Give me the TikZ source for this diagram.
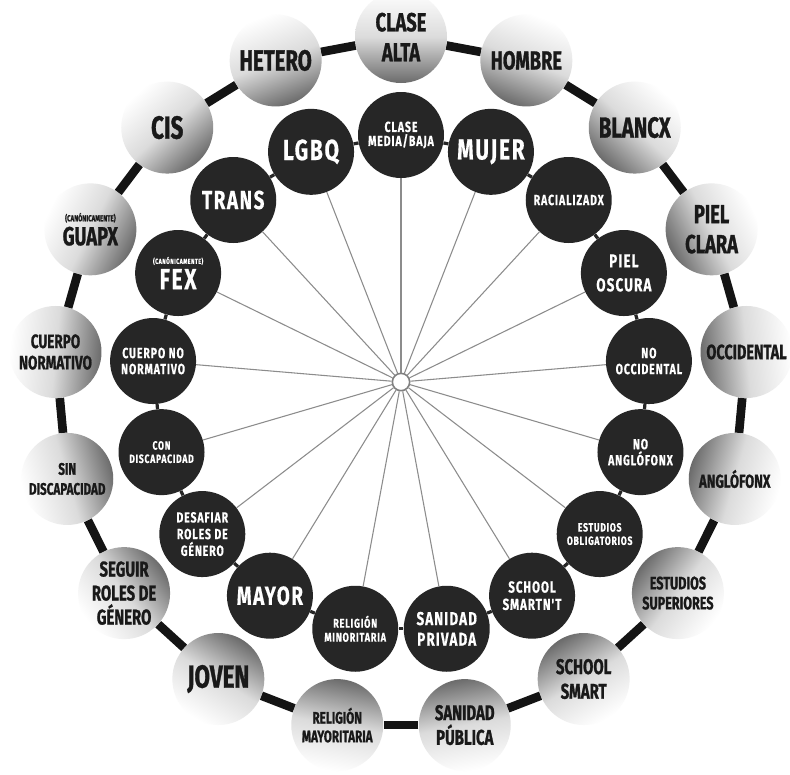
\documentclass[tikz,border=0pt]{standalone}
\usepackage{fontspec}
\newfontfamily\cf[FakeStretch=0.70,FakeBold=1]{Fira Sans}
\newfontfamily\cfs[FakeStretch=0.72,LetterSpace=6,FakeBold=0.4]{Fira Sans}
\definecolor{innerfill}{HTML}{262626}
\begin{document}
\begin{tikzpicture}[x=0.75pt,y=-0.75pt,
  inode/.style={circle, fill=innerfill, minimum size=64.5pt, inner sep=0pt, text=white, align=center},
  onode/.style={circle, minimum size=69pt, inner sep=0pt, text=black!90, align=center,
     top color=white, bottom color=black!58, middle color=black!14},
  spoke/.style={draw=black!45, line width=0.8pt},
  ilink/.style={draw=innerfill, line width=2.4pt},
  olink/.style={draw=black!92, line width=6.5pt},
  hubnode/.style={circle, draw=black!50, fill=white, line width=1.2pt, minimum size=13pt, inner sep=0pt}]
\useasboundingbox (0,0) rectangle (790,775);
\fill[white] (0,0) rectangle (790,775);
\foreach \i in {0,...,16}{
  \coordinate (pi\i) at ([shift={(401,384)}]{-90+\i*360/17}:249);
  \coordinate (po\i) at ([shift={(401,384)}]{-90+\i*360/17}:347);
}
\node[hubnode] (hub) at (401,382) {};
% inner ring
\node[inode, font=\cfs\bfseries\fontsize{11}{10.5}\selectfont] (i0) at (pi0) {CLASE\\MEDIA/BAJA};
\node[inode, font=\cfs\bfseries\fontsize{21.8}{24}\selectfont] (i1) at (pi1) {MUJER};
\node[inode, font=\cfs\bfseries\fontsize{11}{12}\selectfont] (i2) at (pi2) {RACIALIZADX};
\node[inode, font=\cfs\bfseries\fontsize{14}{18}\selectfont] (i3) at (pi3) {PIEL\\OSCURA};
\node[inode, font=\cfs\bfseries\fontsize{11}{12}\selectfont] (i4) at (pi4) {NO\\OCCIDENTAL};
\node[inode, font=\cfs\bfseries\fontsize{11}{12}\selectfont] (i5) at (pi5) {NO\\ANGLÓFONX};
\node[inode, font=\cfs\bfseries\fontsize{9}{10}\selectfont] (i6) at (pi6) {ESTUDIOS\\OBLIGATORIOS};
\node[inode, font=\cfs\bfseries\fontsize{12}{13}\selectfont] (i7) at (pi7) {SCHOOL\\SMARTN'T};
\node[inode, font=\cfs\bfseries\fontsize{14}{15.5}\selectfont] (i8) at (pi8) {SANIDAD\\PRIVADA};
\node[inode, font=\cfs\bfseries\fontsize{9.5}{10.5}\selectfont] (i9) at (pi9) {RELIGIÓN\\MINORITARIA};
\node[inode, font=\cfs\bfseries\fontsize{19.6}{22}\selectfont] (i10) at (pi10) {MAYOR};
\node[inode, font=\cfs\bfseries\fontsize{11}{12.5}\selectfont] (i11) at (pi11) {DESAFIAR\\ROLES DE\\GÉNERO};
\node[inode, font=\cfs\bfseries\fontsize{9}{10}\selectfont] (i12) at (pi12) {CON\\DISCAPACIDAD};
\node[inode, font=\cfs\bfseries\fontsize{11}{12}\selectfont] (i13) at (pi13) {CUERPO NO\\NORMATIVO};
\node[inode, font=\cfs\bfseries\fontsize{21.8}{19}\selectfont] (i14) at (pi14) {{\fontsize{5.5}{6}\selectfont (CANÓNICAMENTE)}\\FEX};
\node[inode, font=\cfs\bfseries\fontsize{19.6}{22}\selectfont] (i15) at (pi15) {TRANS};
\node[inode, font=\cfs\bfseries\fontsize{21.8}{24}\selectfont] (i16) at (pi16) {LGBQ};
% outer ring
\node[onode, shading angle=0, font=\cf\bfseries\fontsize{19.6}{22.5}\selectfont] (o0) at (po0) {CLASE\\ALTA};
\node[onode, shading angle=-21.18, font=\cf\bfseries\fontsize{19.6}{22}\selectfont] (o1) at (po1) {HOMBRE};
\node[onode, shading angle=-42.35, font=\cf\bfseries\fontsize{21.8}{24}\selectfont] (o2) at (po2) {BLANCX};
\node[onode, shading angle=-63.53, font=\cf\bfseries\fontsize{19.6}{22.5}\selectfont] (o3) at (po3) {PIEL\\CLARA};
\node[onode, shading angle=-84.71, font=\cf\bfseries\fontsize{15.5}{18}\selectfont] (o4) at (po4) {OCCIDENTAL};
\node[onode, shading angle=-105.88, font=\cf\bfseries\fontsize{14}{15}\selectfont] (o5) at (po5) {ANGLÓFONX};
\node[onode, shading angle=-127.06, font=\cf\bfseries\fontsize{13.5}{15}\selectfont] (o6) at (po6) {ESTUDIOS\\SUPERIORES};
\node[onode, shading angle=-148.24, font=\cf\bfseries\fontsize{16}{18.5}\selectfont] (o7) at (po7) {SCHOOL\\SMART};
\node[onode, shading angle=-169.41, font=\cf\bfseries\fontsize{16}{18.5}\selectfont] (o8) at (po8) {SANIDAD\\PÚBLICA};
\node[onode, shading angle=-190.59, font=\cf\bfseries\fontsize{12.5}{14}\selectfont] (o9) at (po9) {RELIGIÓN\\MAYORITARIA};
\node[onode, shading angle=-211.76, font=\cf\bfseries\fontsize{24}{26}\selectfont] (o10) at (po10) {JOVEN};
\node[onode, shading angle=-232.94, font=\cf\bfseries\fontsize{16}{18}\selectfont] (o11) at (po11) {SEGUIR\\ROLES DE\\GÉNERO};
\node[onode, shading angle=-254.12, font=\cf\bfseries\fontsize{12.5}{15}\selectfont] (o12) at (po12) {SIN\\DISCAPACIDAD};
\node[onode, shading angle=-275.29, font=\cf\bfseries\fontsize{14.5}{16}\selectfont] (o13) at (po13) {CUERPO\\NORMATIVO};
\node[onode, shading angle=-296.47, font=\cf\bfseries\fontsize{19.6}{18}\selectfont] (o14) at (po14) {{\fontsize{6.5}{7}\selectfont (CANÓNICAMENTE)}\\GUAPX};
\node[onode, shading angle=-317.65, font=\cf\bfseries\fontsize{24}{26}\selectfont] (o15) at (po15) {CIS};
\node[onode, shading angle=-338.82, font=\cf\bfseries\fontsize{21.8}{24}\selectfont] (o16) at (po16) {HETERO};
% connectors
\foreach \i [evaluate=\i as \j using {int(mod(\i+1,17))}] in {0,...,16}{
  \draw[spoke] (hub) -- (i\i);
  \draw[ilink] (i\i) -- (i\j);
  \draw[olink] (o\i) -- (o\j);
}
\end{tikzpicture}
\end{document}
